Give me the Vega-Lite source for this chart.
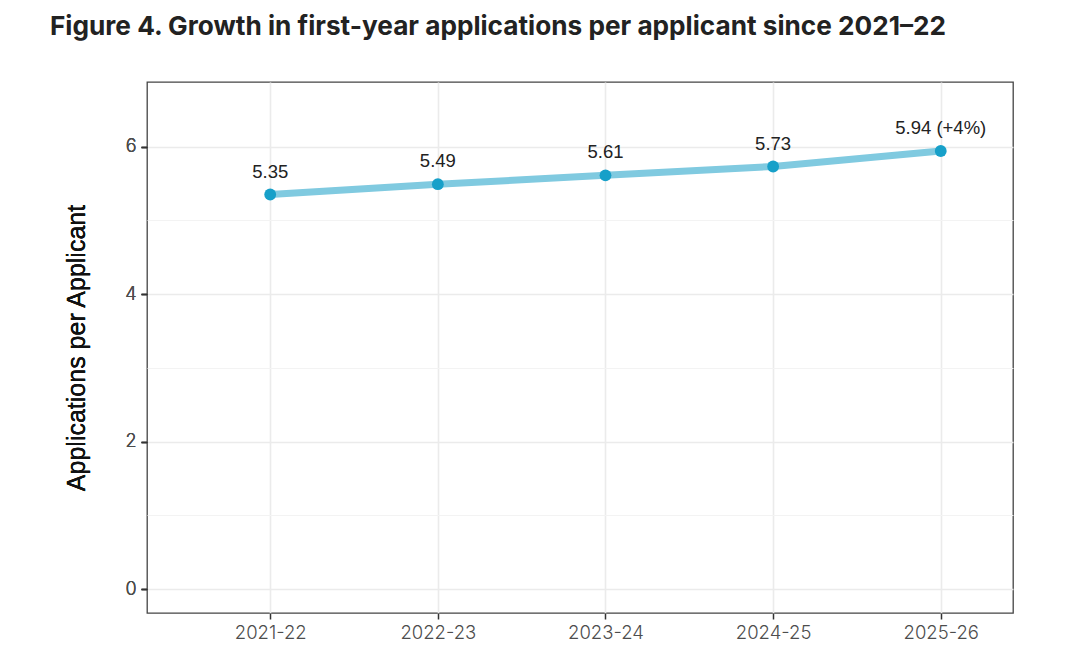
{
  "$schema": "https://vega.github.io/schema/vega-lite/v6.json",
  "width": 866,
  "height": 531,
  "autosize": {"type": "none"},
  "padding": {"left": 147, "top": 82, "right": 67, "bottom": 48},
  "background": "white",
  "title": {
    "text": "Figure 4. Growth in first-year applications per applicant since 2021–22",
    "anchor": "start",
    "frame": "group",
    "dx": -97,
    "offset": 42,
    "font": "Inter",
    "fontSize": 26.2,
    "fontWeight": "bold",
    "color": "#222222"
  },
  "config": {
    "view": {"stroke": "#444444", "strokeWidth": 1.3},
    "font": "Inter"
  },
  "data": {
    "values": [
      {"year": 2021, "period": "2021-22", "value": 5.35, "label": "5.35"},
      {"year": 2022, "period": "2022-23", "value": 5.49, "label": "5.49"},
      {"year": 2023, "period": "2023-24", "value": 5.61, "label": "5.61"},
      {"year": 2024, "period": "2024-25", "value": 5.73, "label": "5.73"},
      {"year": 2025, "period": "2025-26", "value": 5.94, "label": "5.94 (+4%)"}
    ]
  },
  "encoding": {
    "x": {
      "field": "year",
      "type": "quantitative",
      "scale": {"domain": [2020.265, 2025.431], "nice": false, "zero": false},
      "axis": {
        "title": null,
        "values": [2021, 2022, 2023, 2024, 2025],
        "labelExpr": "datum.value + '-' + (datum.value - 1999)",
        "domain": false,
        "tickColor": "#333333",
        "tickSize": 6,
        "tickWidth": 1.5,
        "labelFont": "Inter",
        "labelFontSize": 18.5,
        "labelFontWeight": 300,
        "labelColor": "#4d4d4d",
        "labelPadding": 4,
        "gridColor": "#ebebeb",
        "gridWidth": 1.6
      }
    },
    "y": {
      "field": "value",
      "type": "quantitative",
      "scale": {"domain": [-0.325, 6.876], "nice": false, "zero": false},
      "axis": {
        "orient": "left",
        "title": "Applications per Applicant",
        "titleFont": "Liberation Sans",
        "titleFontSize": 25,
        "titleFontWeight": "normal",
        "titleColor": "#111111",
        "titlePadding": 35,
        "values": [0, 2, 4, 6],
        "domain": false,
        "tickColor": "#333333",
        "tickSize": 6,
        "tickWidth": 1.5,
        "labelFont": "Inter",
        "labelFontSize": 18,
        "labelFontWeight": 300,
        "labelColor": "#4d4d4d",
        "labelPadding": 5,
        "gridColor": "#ebebeb",
        "gridWidth": 1.6
      }
    }
  },
  "layer": [
    {
      "mark": {"type": "line", "color": "#80cae0", "strokeWidth": 7, "strokeCap": "round"}
    },
    {
      "mark": {"type": "point", "filled": true, "color": "#17a0c9", "opacity": 1, "size": 140}
    },
    {
      "mark": {"type": "text", "baseline": "bottom", "dy": -13, "font": "Liberation Sans", "fontSize": 18.5, "color": "#222222"},
      "encoding": {"text": {"field": "label"}}
    },
    {
      "mark": {"type": "rule", "color": "#f2f2f2", "strokeWidth": 1},
      "encoding": {
        "y": {
          "field": "value",
          "type": "quantitative",
          "axis": {
            "orient": "left",
            "values": [1, 3, 5],
            "labels": false,
            "ticks": false,
            "domain": false,
            "title": null,
            "grid": true,
            "gridColor": "#f3f3f3",
            "gridWidth": 1,
            "zindex": 0
          }
        },
        "opacity": {"value": 0}
      }
    }
  ],
  "resolve": {"axis": {"y": "independent"}}
}
